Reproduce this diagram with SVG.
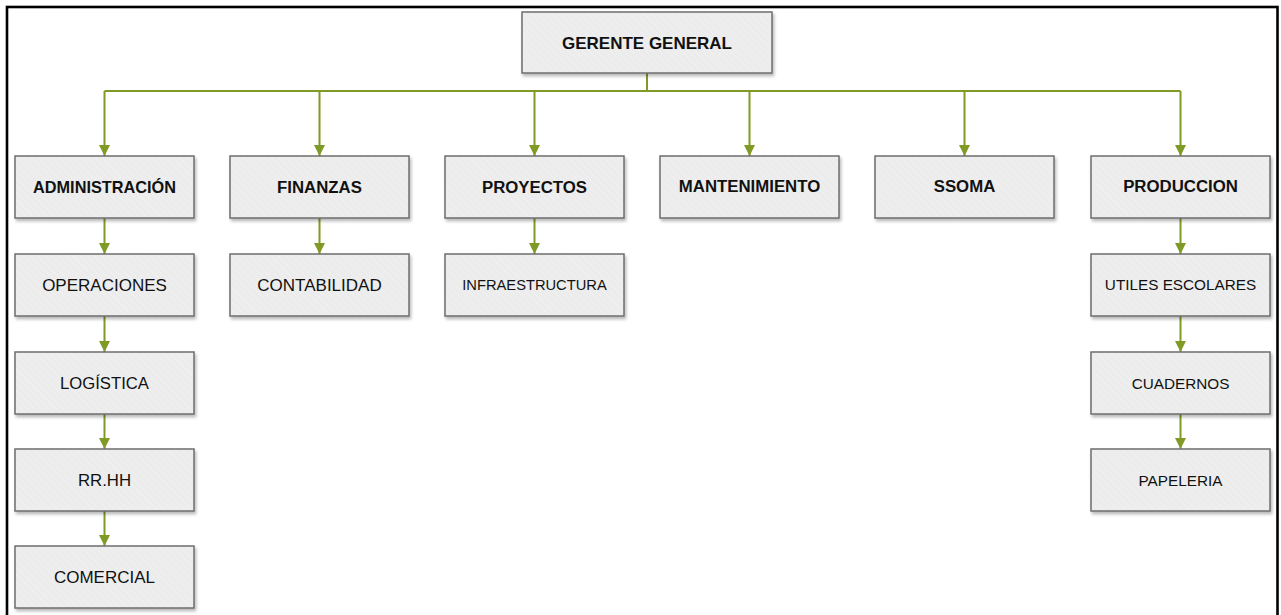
<svg xmlns="http://www.w3.org/2000/svg" width="1281" height="615" viewBox="0 0 1281 615">
  <defs>
    <pattern id="hatch" width="5" height="5" patternUnits="userSpaceOnUse" patternTransform="rotate(-45)">
      <rect width="5" height="5" fill="#ececec"/>
      <line x1="0" y1="0" x2="0" y2="5" stroke="#f2f2f2" stroke-width="1.5"/>
    </pattern>
    <filter id="shadow" x="-10%" y="-20%" width="125%" height="150%">
      <feDropShadow dx="1.5" dy="2.5" stdDeviation="1.8" flood-color="#000" flood-opacity="0.28"/>
    </filter>
    <marker id="arrow" markerUnits="userSpaceOnUse" markerWidth="12" markerHeight="12" refX="11" refY="6" orient="auto">
      <path d="M0,0.5 L11,6 L0,11.5 Z" fill="#7f9b26"/>
    </marker>
    <style>
      .box { fill: url(#hatch); stroke: #6e6e6e; stroke-width: 1.5; filter: url(#shadow); }
      .lbl { font-family: "Liberation Sans", Arial, sans-serif; fill: #111; text-anchor: middle; }
      .head { font-weight: bold; font-size: 16.8px; }
      .sub { font-size: 16.5px; }
      .sub2 { font-size: 15.3px; }
      .conn { fill: none; stroke: #7f9b26; stroke-width: 2; }
      .conn-a { fill: none; stroke: #7f9b26; stroke-width: 2; marker-end: url(#arrow); }
    </style>
  </defs>

  <rect width="1281" height="615" fill="#fff"/>
  <!-- outer frame (open at the bottom edge) -->
  <rect x="7" y="7" width="1270.5" height="700" fill="none" stroke="#000" stroke-width="2.6"/>

  <g id="connectors">
    <path class="conn" d="M647,73 V91 M104.5,91 H1180.5"/>
    <path class="conn-a" d="M104.5,91 V156"/>
    <path class="conn-a" d="M319.5,91 V156"/>
    <path class="conn-a" d="M534.5,91 V156"/>
    <path class="conn-a" d="M749.5,91 V156"/>
    <path class="conn-a" d="M964.5,91 V156"/>
    <path class="conn-a" d="M1180.5,91 V156"/>
    <!-- administration chain -->
    <path class="conn-a" d="M104.5,218 V254"/>
    <path class="conn-a" d="M104.5,316 V352"/>
    <path class="conn-a" d="M104.5,414 V449"/>
    <path class="conn-a" d="M104.5,511 V546"/>
    <!-- finance / projects -->
    <path class="conn-a" d="M319.5,218 V254"/>
    <path class="conn-a" d="M534.5,218 V254"/>
    <!-- production chain -->
    <path class="conn-a" d="M1180.5,218 V254"/>
    <path class="conn-a" d="M1180.5,316 V352"/>
    <path class="conn-a" d="M1180.5,414 V449"/>
  </g>

  <g id="gerente">
    <rect class="box" x="522" y="12" width="250" height="61"/>
    <text class="lbl head" x="647" y="48.5" style="font-size:17px">GERENTE GENERAL</text>
  </g>

  <g id="administracion">
    <rect class="box" x="15" y="156" width="179" height="62"/>
    <text class="lbl head" x="104.5" y="193" style="font-size:16.3px">ADMINISTRACIÓN</text>
  </g>
  <g id="finanzas">
    <rect class="box" x="230" y="156" width="179" height="62"/>
    <text class="lbl head" x="319.5" y="193">FINANZAS</text>
  </g>
  <g id="proyectos">
    <rect class="box" x="445" y="156" width="179" height="62"/>
    <text class="lbl head" x="534.5" y="193">PROYECTOS</text>
  </g>
  <g id="mantenimiento">
    <rect class="box" x="660" y="156" width="179" height="62"/>
    <text class="lbl head" x="749.5" y="192">MANTENIMIENTO</text>
  </g>
  <g id="ssoma">
    <rect class="box" x="875" y="156" width="179" height="62"/>
    <text class="lbl head" x="964.5" y="192">SSOMA</text>
  </g>
  <g id="produccion">
    <rect class="box" x="1091" y="156" width="179" height="62"/>
    <text class="lbl head" x="1180.5" y="192">PRODUCCION</text>
  </g>

  <g id="operaciones">
    <rect class="box" x="15" y="254" width="179" height="62"/>
    <text class="lbl sub" x="104.5" y="291" style="font-size:17px">OPERACIONES</text>
  </g>
  <g id="logistica">
    <rect class="box" x="15" y="352" width="179" height="62"/>
    <text class="lbl sub" x="104.5" y="389" style="font-size:16.7px">LOGÍSTICA</text>
  </g>
  <g id="rrhh">
    <rect class="box" x="15" y="449" width="179" height="62"/>
    <text class="lbl sub" x="104.5" y="486" style="font-size:16.8px">RR.HH</text>
  </g>
  <g id="comercial">
    <rect class="box" x="15" y="546" width="179" height="62"/>
    <text class="lbl sub" x="104.5" y="583" style="font-size:17px">COMERCIAL</text>
  </g>

  <g id="contabilidad">
    <rect class="box" x="230" y="254" width="179" height="62"/>
    <text class="lbl sub" x="319.5" y="291" style="font-size:17px">CONTABILIDAD</text>
  </g>
  <g id="infraestructura">
    <rect class="box" x="445" y="254" width="179" height="62"/>
    <text class="lbl sub" x="534.5" y="290" style="font-size:14.7px">INFRAESTRUCTURA</text>
  </g>

  <g id="utiles-escolares">
    <rect class="box" x="1091" y="254" width="179" height="62"/>
    <text class="lbl sub2" x="1180.5" y="290">UTILES ESCOLARES</text>
  </g>
  <g id="cuadernos">
    <rect class="box" x="1091" y="352" width="179" height="62"/>
    <text class="lbl sub2" x="1180.5" y="389">CUADERNOS</text>
  </g>
  <g id="papeleria">
    <rect class="box" x="1091" y="449" width="179" height="62"/>
    <text class="lbl sub2" x="1180.5" y="486">PAPELERIA</text>
  </g>
</svg>
